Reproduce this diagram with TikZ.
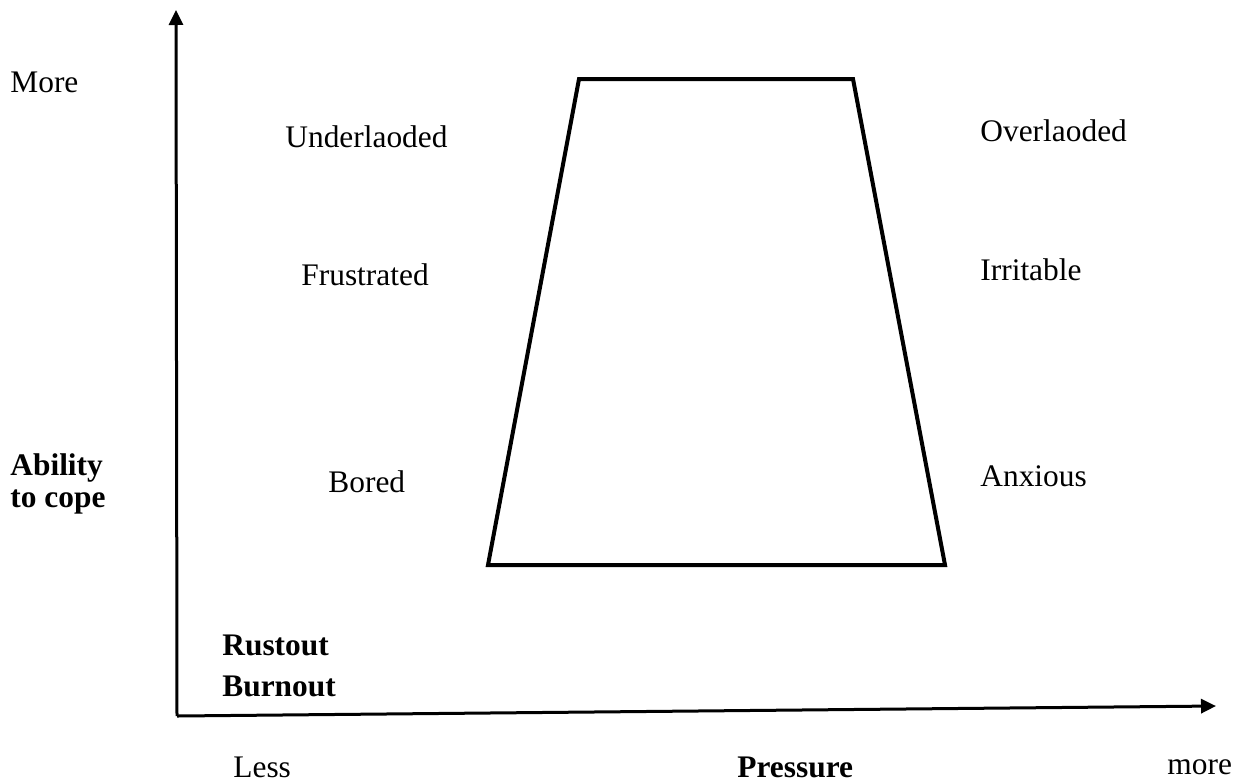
\documentclass[tikz,border=0pt]{standalone}
\usepackage{fontspec}
\setmainfont{Liberation Serif}
\usetikzlibrary{arrows.meta}

\begin{document}
\begin{tikzpicture}[x=0.5pt,y=-0.5pt,line join=miter,>={Triangle[length=7.5pt,width=7pt]}]
			\tikzset{every node/.style={font=\fontsize{15.7}{19}\selectfont,inner sep=0pt,anchor=west}}
			\tikzset{boldlbl/.style={font=\fontsize{15.7}{19}\selectfont\bfseries}}
			\useasboundingbox (0,0) rectangle (1234,782);
			% axes
			\coordinate (O) at (177,716);
			\coordinate (ytop) at (176,10);
			\coordinate (xend) at (1216,706);
			\draw[line width=1.5pt,->] (O)--(ytop);
			\draw[line width=1.5pt,->] (O)--(xend);
			% trapezium
			\coordinate (bl) at (488,565);
			\coordinate (tl) at (579,79);
			\coordinate (tr) at (853,79);
			\coordinate (br) at (945,565);
			\draw[line width=2pt] (bl)--(tl)--(tr)--(br)--cycle;
			% left side
			\node (more) at (10,82) {More};
			\node (under) at (285,137) {Underlaoded};
			\node (frus) at (301,275) {Frustrated};
			\node (bored) at (328,482) {Bored};
			\node[boldlbl] (ability) at (10,468) {Ability};
			\node[boldlbl] (cope) at (10,502) {to cope};
			\node[boldlbl] (rust) at (222,645) {Rustout};
			\node[boldlbl] (burn) at (222,686) {Burnout};
			% right side
			\node (over) at (980,131) {Overlaoded};
			\node (irr) at (980,270) {Irritable};
			\node (anx) at (980,476) {Anxious};
			% x labels
			\node (less) at (233,767) {Less};
			\node[boldlbl] (press) at (737,767) {Pressure};
			\node (moreR) at (1167,767) {more};
\end{tikzpicture}
\end{document}
